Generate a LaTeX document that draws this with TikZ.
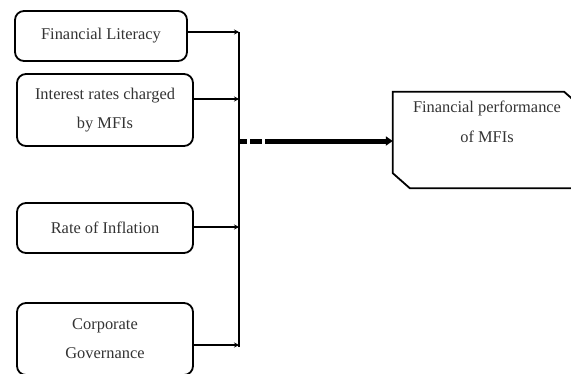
\documentclass[tikz,border=0pt]{standalone}
\usepackage{fontspec}
\setmainfont{Liberation Serif}
\usetikzlibrary{arrows.meta}

\begin{document}
\begin{tikzpicture}[
    x=1pt, y=-1pt,
    factor/.style={draw, line width=1.8pt, rounded corners=9pt, align=center,
                   text=black!80, font=\fontsize{16.4}{29}\selectfont,
                   minimum width=176pt, inner sep=0pt},
    outcome/.style={align=center, text=black!80, font=\fontsize{16.4}{30}\selectfont,
                    minimum width=188pt, minimum height=96pt, inner sep=0pt},
    frame/.style={line width=1.8pt, line join=miter},
    feed/.style={-{Stealth[length=5pt,width=5pt]}, line width=1.5pt},
    bus/.style={line width=1.8pt},
    main/.style={-{Triangle[length=7pt,width=9pt]}, line width=5pt,
                 dash pattern=on 7pt off 3pt on 12pt off 3pt on 400pt}
]
\useasboundingbox (0,0) rectangle (571,373);
% independent variables
\node[factor, minimum width=172pt, minimum height=50pt] (lit) at (101,36)
  {Financial Literacy};
\node[factor, minimum height=72pt] (rate) at (105,110)
  {Interest rates charged\\by MFIs};
\node[factor, minimum height=50pt] (infl) at (105,228)
  {Rate of Inflation};
\node[factor, minimum height=72pt] (gov) at (105,339)
  {Corporate\\Governance};
% dependent variable, cut corners
\node[outcome, text depth=36pt] (perf) at (487,140)
  {Financial performance\\of MFIs};
\draw[frame] (perf.north west) -- ([xshift=-17pt]perf.north east)
  -- ([yshift=-15pt]perf.north east) -- (perf.south east)
  -- ([xshift=17pt]perf.south west) -- ([yshift=15pt]perf.south west) -- cycle;
% bus points
\coordinate (b1) at (239,32);
\coordinate (b2) at (239,99);
\coordinate (b3) at (239,227);
\coordinate (b4) at (239,345);
\coordinate (bend) at (239,347);
\coordinate (hub) at (240,141);
% connectors
\draw[bus] (b1) -- (bend);
\draw[feed] (lit.east |- b1) -- (b1);
\draw[feed] (rate.east |- b2) -- (b2);
\draw[feed] (infl.east |- b3) -- (b3);
\draw[feed] (gov.east |- b4) -- (b4);
\draw[main] (hub) -- (perf.west |- hub);
\end{tikzpicture}
\end{document}
